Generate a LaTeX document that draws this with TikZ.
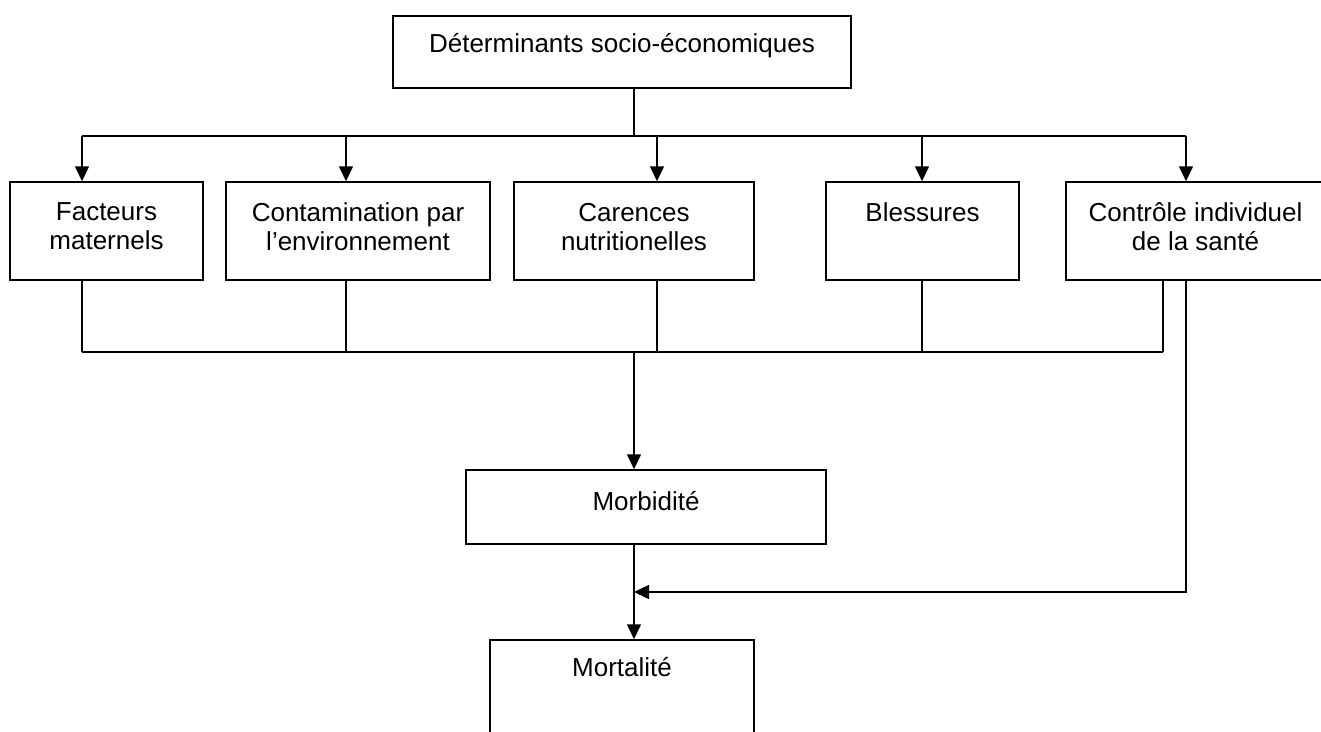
\documentclass[tikz,border=0pt]{standalone}
\usepackage{fontspec}
\setmainfont{Liberation Sans}
\usetikzlibrary{arrows.meta}
\tikzset{box/.style={draw, rectangle, inner sep=0pt}}
\tikzset{box_text/.style={anchor=north, align=center, inner sep=0pt, yshift=-17pt}}
\tikzset{low_text/.style={box_text, yshift=-4pt}}

\begin{document}
\begin{tikzpicture}[x=1pt, y=-1pt, line width=1.5pt, >={Triangle[length=15pt,width=14pt]},
    font=\fontsize{26}{29}\selectfont]
    \path[use as bounding box, clip] (0,0) rectangle (1321,731);
    %\draw[help lines] (0,0) grid[step=100] (1321,731);
    \node[box, minimum width=458, minimum height=72, label={[box_text]north:Déterminants socio-économiques}] (det) at (622,52) {};

    \node[box, minimum width=193, minimum height=98, label={[low_text]north:Facteurs\\maternels}] (fact) at (106.5,231) {};
    \node[box, minimum width=264, minimum height=98, label={[low_text]north:Contamination par\\l’environnement}] (cont) at (358,231) {};
    \node[box, minimum width=240, minimum height=98, label={[low_text]north:Carences\\nutritionelles}] (car) at (634,231) {};
    \node[box, minimum width=193, minimum height=98, label={[low_text]north:Blessures}] (bles) at (922.5,231) {};
    \node[box, minimum width=259, minimum height=98, label={[low_text]north:Contrôle individuel\\de la santé}] (ctrl) at (1195.5,231) {};

    \node[box, minimum width=360, minimum height=74, label={[low_text]north:Morbidité}] (morb) at (646,507) {};
    \node[box, minimum width=264, minimum height=100, label={[box_text]north:Mortalité}] (mort) at (622,690) {};

    % branching points
    \coordinate (split) at (634,136);
    \coordinate (join) at (634,352);
    \coordinate (fb) at (1186,592);
    \coordinate (fb_in) at (634,592);

    \draw (det.south -| split) -- (split);
    \draw (82,136) -- (1186,136);
    \foreach \n/\x in {fact/82, cont/346, car/657, bles/922, ctrl/1186}
        \draw[->] (\x,136) -- (\n.north -| \x,0);

    \foreach \n/\x in {fact/82, cont/346, car/657, bles/922, ctrl/1163}
        \draw (\n.south -| \x,0) -- (\x,352);
    \draw (82,352) -- (1163,352);
    \draw[->] (join) -- (morb.north -| join);

    \draw[->] (morb.south -| join) -- (mort.north -| join);
    \draw[->] (ctrl.south -| fb) -- (fb) -- (fb_in);
\end{tikzpicture}
\end{document}
